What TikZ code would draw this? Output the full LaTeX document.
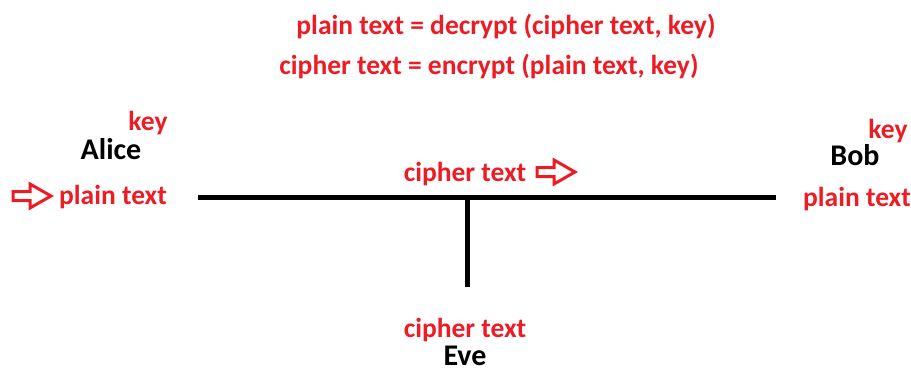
\documentclass[tikz,border=0pt]{standalone}
\usepackage{fontspec}
\setmainfont{Carlito}
\definecolor{paintred}{RGB}{237,28,36}
\tikzset{
  redlbl/.style={text=paintred, font=\fontsize{27.5}{32}\selectfont\bfseries, inner sep=0pt, anchor=base},
  namelbl/.style={text=black, font=\fontsize{30}{34}\selectfont\bfseries, inner sep=0pt, anchor=base},
  flowarrow/.style={draw=paintred, line width=3pt}
}
% hollow block arrow pointing right, centred on a coordinate
\newcommand{\flowarrowat}[1]{%
  \draw[flowarrow] (#1) ++(-19,-4.5) -- ++(17,0) -- ++(0,-7.5) -- ++(21,12)
    -- ++(-21,12) -- ++(0,-7.5) -- ++(-17,0) -- cycle;}
\begin{document}
\begin{tikzpicture}[x=1pt, y=-1pt]
              \useasboundingbox (0,0) rectangle (911,369);

              % Equations
              \node[redlbl] (dec) at (506,35) {plain text = decrypt (cipher text, key)};
              \node[redlbl] (enc) at (489,75) {cipher text = encrypt (plain text, key)};

              % Alice
              \node[namelbl] (alice) at (111,159) {Alice};
              \node[redlbl] (akey) at (148,131) {key};
              \node[redlbl] (aplain) at (113,204) {plain text};
              \coordinate (ain) at (32,196);
              \flowarrowat{ain}

              % Bob
              \node[namelbl] (bob) at (855,165) {Bob};
              \node[redlbl] (bkey) at (888,138) {key};
              \node[redlbl] (bplain) at (857,206) {plain text};

              % Channel
              \coordinate (chanL) at (198,197);
              \coordinate (chanR) at (776,197);
              \coordinate (tap) at (467,197);
              \coordinate (tapEnd) at (467,287);
              \draw[line width=5pt] (chanL) -- (chanR);
              \draw[line width=5pt] (tap) -- (tapEnd);
              \node[redlbl] (cmid) at (465,181) {cipher text};
              \coordinate (cout) at (556,172);
              \flowarrowat{cout}

              % Eve
              \node[redlbl] (ceve) at (465,337) {cipher text};
              \node[namelbl] (eve) at (465,365) {Eve};
          \end{tikzpicture}
\end{document}
